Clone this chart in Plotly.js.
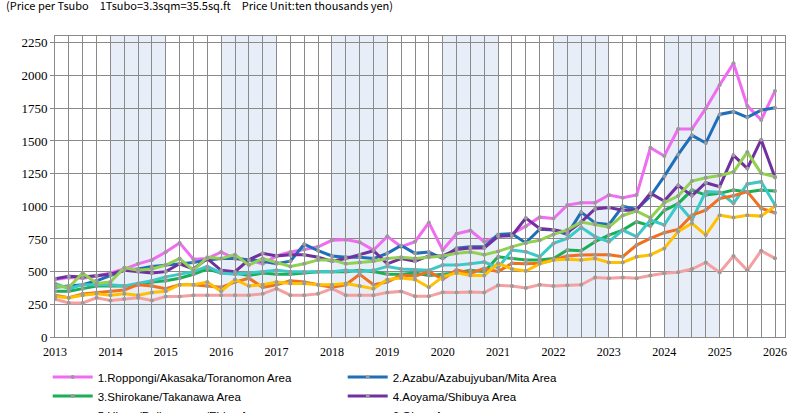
<!DOCTYPE html>
<html><head><meta charset="utf-8">
<script src="https://cdn.plot.ly/plotly-3.0.1.min.js"></script>
<style>body{margin:0;background:#fff}#chart{width:806px;height:413px}</style>
</head><body><div id="chart"></div>
<script>
// quarterly data 2013.0 - 2026.0
var names = ['1.Roppongi/Akasaka/Toranomon Area','2.Azabu/Azabujyuban/Mita Area','3.Shirokane/Takanawa Area',
  '4.Aoyama/Shibuya Area','5.Hiro-o/Daikanyama/Ebisu Area','6.Ginza Area',
  '7.Bancho/kojimachi/Iidabashi Area','9.Meguro/Shinagawa Area','10.Setagaya/Ota Area'];
var colors = ['#F06CF0','#1F6FB8','#1AAE55','#7030A0','#3CC8C8','#F07020','#92D050','#FFC000','#F4A0A0'];

var roppongi = [440,455,450,465, 490,520,560,590, 650,720,595,600, 650,600,590,560, 620,650,670,690, 740,745,725,665, 770,
  690,729,875,665, 790,815,729,770, 790,848,917,907, 1009,1027,1027,1086, 1066,1086,1448,1385, 1591,1591,1749,1928, 2094,1768,1661,1883];
var azabu = [380,390,400,430, 470,510,520,540, 550,560,570,590, 600,600,590,580, 560,580,710,660, 620,610,610,600, 640,
  700,640,650,600, 680,690,690,785, 790,720,824,818, 785,955,873,860, 1000,976,1076,1229, 1395,1543,1484,1703, 1724,1680,1736,1754];
var shirokane = [350,350,370,390, 390,390,400,420, 430,450,480,520, 490,490,470,490, 480,480,490,500, 500,500,510,500, 480,
  480,490,470,480, 490,510,500,614, 600,589,590,600, 665,660,729,780, 818,882,850,969, 1020,1124,1086,1099, 1124,1110,1124,1117];
var aoyama = [445,465,460,470, 480,510,500,490, 500,560,520,600, 510,500,590,640, 620,630,630,610, 580,600,630,660, 560,
  600,580,620,620, 670,680,680,770, 775,910,830,820, 800,880,980,990, 970,970,1100,1040, 1160,1080,1180,1150, 1390,1290,1510,1220];
var hiroo = [410,370,400,400, 400,390,410,430, 460,480,500,540, 490,480,490,500, 510,500,500,500, 500,510,500,510, 540,
  520,515,510,550, 550,560,573,530, 665,653,614,716, 755,839,768,729, 818,768,895,857, 1017,895,1112,1107, 1023,1171,1188,1010];
var ginza = [320,300,330,340, 350,360,400,390, 370,400,400,390, 380,420,450,380, 400,430,420,400, 380,400,480,400, 420,
  474,465,500,441, 513,487,525,500, 564,560,564,589, 620,628,630,630, 614,703,755,798, 823,932,971,1060, 1081,1112,984,951];
var bancho = [390,380,490,410, 420,530,510,520, 550,600,510,610, 600,630,550,600, 570,540,560,590, 590,560,570,580, 600,
  610,600,610,620, 640,650,630,655, 690,720,740,785, 820,880,860,840, 930,963,912,1027, 1078,1193,1219,1236, 1262,1415,1252,1226];
var meguro = [310,300,320,330, 320,330,320,340, 350,400,400,420, 350,440,390,400, 420,410,410,400, 400,410,390,370, 440,
  451,440,380,460, 492,470,470,564, 520,505,560,589, 595,590,600,570, 570,614,628,678, 806,870,780,932, 914,932,925,1002];
var setagaya = [290,260,260,300, 280,290,300,280, 310,310,320,320, 320,320,320,330, 370,320,320,330, 370,320,320,320, 340,
  349,311,311,342, 340,345,340,395, 390,375,400,390, 395,400,456,450, 456,450,470,487, 495,520,570,494, 620,510,660,602];
var bands = [2014,2016,2018,2020,2022,2024];

var series = [roppongi,azabu,shirokane,aoyama,hiroo,ginza,bancho,meguro,setagaya];
var xs = roppongi.map(function(v,i){ return 2013 + i*0.25; });

var data = [];
series.forEach(function(ys, indx){
  data.push({
    x: xs, y: ys, name: names[indx], type: 'scatter', mode: 'lines+markers',
    line: {color: colors[indx], width: 3},
    marker: {color: '#9a9a9a', size: 4}
  });
});

var shapes = bands.map(function(b){
  return {type:'rect', xref:'x', yref:'paper', x0:b, x1:b+1, y0:0, y1:1,
    fillcolor:'#E8EEF7', line:{width:0}, layer:'below'};
});

var layout = {
  width: 806, height: 413,
  margin: {l:55, r:21, t:36, b:76, autoexpand:false},
  paper_bgcolor:'#fff', plot_bgcolor:'#fff',
  font: {family:'Liberation Sans, Arial', size:12, color:'#000'},
  showlegend: true,
  legend: {orientation:'h', x:-0.01, y:-0.085, xanchor:'left', yanchor:'top', entrywidth:240,
    font:{size:11.5}, tracegroupgap:0, itemwidth:40},
  xaxis: {range:[2013, 2026.18], dtick:1, tick0:2013, showgrid:true, gridcolor:'#8a8a8a', gridwidth:1,
    minor:{dtick:0.25, tick0:2013, showgrid:true, gridcolor:'#8a8a8a', gridwidth:1},
    zeroline:false, showline:true, linecolor:'#8a8a8a', mirror:true, ticks:'', ticklabelstandoff:4,
    tickfont:{family:'Liberation Serif, Times New Roman', size:12}},
  yaxis: {range:[0, 2303], tickvals:[0,250,500,750,1000,1250,1500,1750,2000,2250],
    showgrid:true, gridcolor:'#8a8a8a', zeroline:false, showline:true, linecolor:'#8a8a8a', mirror:true,
    ticks:'outside', ticklen:4, tickcolor:'#8a8a8a',
    tickfont:{family:'Liberation Serif, Times New Roman', size:13}},
  shapes: shapes,
  annotations: [{xref:'paper', yref:'paper', x:-0.07, y:1.07, xanchor:'left', yanchor:'bottom', showarrow:false,
    text:'(Price per Tsubo\u30001Tsubo=3.3sqm=35.5sq.ft\u3000Price Unit:ten thousands yen)',
    font:{size:11, family:'Noto Sans CJK JP, Liberation Sans'}}]
};

Plotly.newPlot('chart', data, layout, {displayModeBar:false});
</script></body></html>
